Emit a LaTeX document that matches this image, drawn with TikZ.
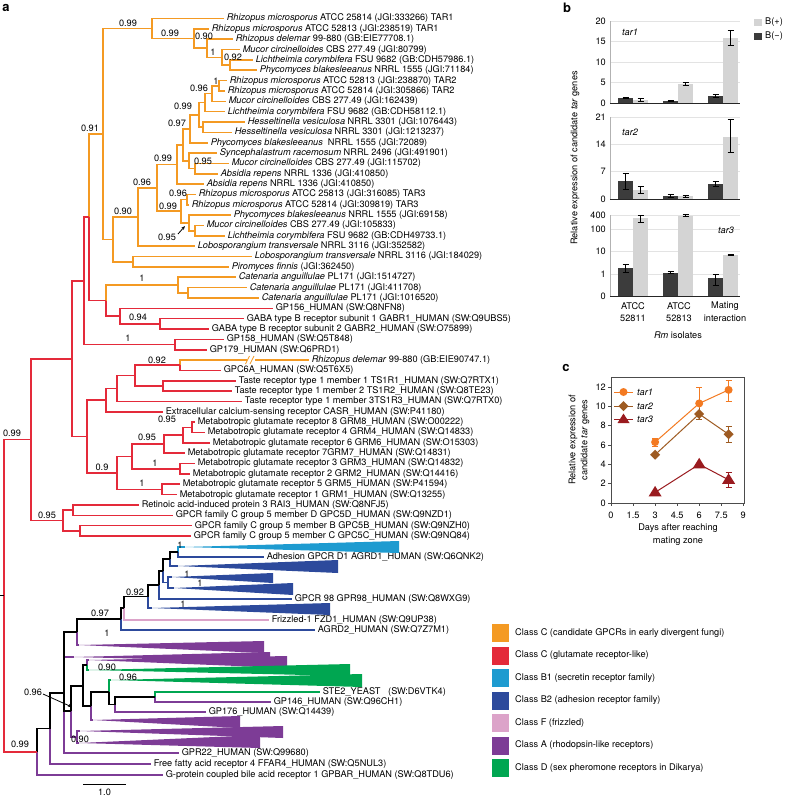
\documentclass[tikz,border=0pt]{standalone}
\usepackage{fontspec}
\setmainfont{TeX Gyre Heros}
\usetikzlibrary{arrows.meta}
\definecolor{cOr}{HTML}{F49A23}
\definecolor{cRd}{HTML}{E42A3A}
\definecolor{cLb}{HTML}{1E9BD0}
\definecolor{cDb}{HTML}{2D4A9C}
\definecolor{cPk}{HTML}{DCA3C9}
\definecolor{cPu}{HTML}{7D3C96}
\definecolor{cGn}{HTML}{00A651}
\definecolor{cBarD}{HTML}{3C3C3C}
\definecolor{cBarL}{HTML}{D4D4D4}
\definecolor{cT1}{HTML}{F37A22}
\definecolor{cT2}{HTML}{9E5B22}
\definecolor{cT3}{HTML}{9A1B1F}
\newcommand\lbl{\fontsize{9.2}{10}\selectfont}
\newcommand\tb[3]{\draw[#1] (#2) |- (#3);}
\newcommand\mkleaf[4]{\coordinate (#1) at (#2,#3); \node[lf] (#1t) at (#1) {#4};}
\newcommand\ebar[3]{\draw[line width=0.7pt] (#1,#2) -- (#1,#3) ({#1-3},#2) -- ({#1+3},#2) ({#1-3},#3) -- ({#1+3},#3);}
\newcommand\bbar[4]{\fill[#1] (#2,#3) rectangle ({#2+15},#4);}
\begin{document}
\begin{tikzpicture}[x=1pt,y=-1pt,
  lf/.style={anchor=west,inner sep=0pt,font=\lbl,xshift=2.6pt},
  bs/.style={inner sep=0pt,font=\lbl},
  ob/.style={draw=cOr,line width=1.6pt},
  rb/.style={draw=cRd,line width=1.6pt},
  kb/.style={draw=black,line width=1.8pt},
  lbb/.style={draw=cLb,line width=1.3pt},
  dbb/.style={draw=cDb,line width=1.3pt},
  pkb/.style={draw=cPk,line width=1.3pt},
  pub/.style={draw=cPu,line width=1.3pt},
  gnb/.style={draw=cGn,line width=1.3pt},
  tk/.style={font=\lbl,inner sep=0pt},
  pl/.style={font=\bfseries\fontsize{13}{13}\selectfont,inner sep=0pt},
  arr/.style={-{Stealth[length=4pt,width=3.2pt]},line width=0.8pt},
]
\useasboundingbox (0,0) rectangle (788,796);
\fill[white] (0,0) rectangle (788,796);

% ---------- panel labels
\node[pl] (la) at (6,8) {a};
\node[pl] (lb) at (567,8) {b};
\node[pl] (lc) at (566,368) {c};

% ---------- internal nodes (orange / red)
\coordinate (E) at (230,65.08);
\coordinate (D) at (222,57.3);
\coordinate (C) at (207,48.25);
\coordinate (B) at (194,38.55);
\coordinate (A) at (152,28.5);
\coordinate (T2) at (219,85.8);
\coordinate (N96a) at (212,93.55);
\coordinate (Nlich) at (205,102.6);
\coordinate (Nh) at (203,127.2);
\coordinate (N99a) at (199,114.9);
\coordinate (N97) at (190,128.8);
\coordinate (N95) at (195,168.6);
\coordinate (Nsync) at (189,160.8);
\coordinate (Nx) at (183,144.8);
\coordinate (N99b) at (177,164.45);
\coordinate (N96c) at (187,199.6);
\coordinate (Nlm) at (195,230.7);
\coordinate (Nph) at (189,222.9);
\coordinate (N99c) at (181,211.25);
\coordinate (N96b) at (157,187.85);
\coordinate (N138) at (138,217.0);
\coordinate (Nlp) at (133,261.7);
\coordinate (N90) at (113,239.35);
\coordinate (O91) at (103,133.9);
\coordinate (Ncat2) at (188,292.8);
\coordinate (Ncat) at (178,285.0);
\coordinate (Ngaba) at (160,323.8);
\coordinate (T) at (120,316.05);
\coordinate (S) at (106,300.5);
\coordinate (P) at (89,217.2);
\coordinate (Ngp158) at (175,344.5);
\coordinate (Q) at (84,280.9);
\coordinate (Ngpc6) at (180,365.2);
\coordinate (Nts12) at (163,385.9);
\coordinate (Nts) at (135,375.6);
\coordinate (N117t) at (117,388.5);
\coordinate (N106) at (106,400.2);
\coordinate (N84) at (192,427.3);
\coordinate (N183) at (183,435.1);
\coordinate (N164) at (164,444.2);
\coordinate (N32) at (180,468.7);
\coordinate (N132) at (132,456.45);
\coordinate (N51) at (162,489.4);
\coordinate (N117g) at (117,472.9);
\coordinate (G) at (87,436.55);
\coordinate (N2) at (72,358.7);
\coordinate (Nr) at (73,510.1);
\coordinate (Nc) at (80,530.8);
\coordinate (Ng5) at (63,520.45);
\coordinate (N1) at (31,439.6);
\coordinate (R) at (4,595.6);
\coordinate (R0) at (0,595.6);

% ---------- leaves
\mkleaf{r0}{224}{18.5}{\textit{Rhizopus microsporus} ATCC 25814 (JGI:333266) TAR1}
\mkleaf{r1}{209}{28.85}{\textit{Rhizopus microsporus} ATCC 52813 (JGI:238519) TAR1}
\mkleaf{r2}{233}{39.2}{\textit{Rhizopus delemar} 99-880 (GB:EIE77708.1)}
\mkleaf{r3}{240}{49.55}{\textit{Mucor circinelloides} CBS 277.49 (JGI:80799)}
\mkleaf{r4}{253}{59.9}{\textit{Lichtheimia corymbifera} FSU 9682 (GB:CDH57986.1)}
\mkleaf{r5}{257}{70.25}{\textit{Phycomyces blakesleeanus} NRRL 1555 (JGI:71184)}
\mkleaf{r6}{227}{80.6}{\textit{Rhizopus microsporus} ATCC 52813 (JGI:238870) TAR2}
\mkleaf{r7}{225}{90.95}{\textit{Rhizopus microsporus} ATCC 52814 (JGI:305866) TAR2}
\mkleaf{r8}{226}{101.3}{\textit{Mucor circinelloides} CBS 277.49 (JGI:162439)}
\mkleaf{r9}{225}{111.65}{\textit{Lichtheimia corymbifera} FSU 9682 (GB:CDH58112.1)}
\mkleaf{r10}{245}{122}{\textit{Hesseltinella vesiculosa} NRRL 3301 (JGI:1076443)}
\mkleaf{r11}{232}{132.35}{\textit{Hesseltinella vesiculosa} NRRL 3301 (JGI:1213237)}
\mkleaf{r12}{208}{142.7}{\textit{Phycomyces blakesleeanus}\ \ NRRL 1555 (JGI:72089)}
\mkleaf{r13}{217}{153.05}{\textit{Syncephalastrum racemosum} NRRL 2496 (JGI:491901)}
\mkleaf{r14}{229}{163.4}{\textit{Mucor circinelloides} CBS 277.49 (JGI:115702)}
\mkleaf{r15}{218}{173.75}{\textit{Absidia repens} NRRL 1336 (JGI:410850)}
\mkleaf{r16}{204}{184.1}{\textit{Absidia repens} NRRL 1336 (JGI:410850)}
\mkleaf{r17}{196}{194.45}{\textit{Rhizopus microsporus} ATCC 25813 (JGI:316085) TAR3}
\mkleaf{r18}{189}{204.8}{\textit{Rhizopus microsporus} ATCC 52814 (JGI:309819) TAR3}
\mkleaf{r19}{231}{215.15}{\textit{Phycomyces blakesleeanus} NRRL 1555 (JGI:69158)}
\mkleaf{r20}{204}{225.5}{\textit{Mucor circinelloides} CBS 277.49 (JGI:105833)}
\mkleaf{r21}{225}{235.85}{\textit{Lichtheimia corymbifera} FSU 9682 (GB:CDH49733.1)}
\mkleaf{r22}{195}{246.2}{\textit{Lobosporangium transversale} NRRL 3116 (JGI:352582)}
\mkleaf{r23}{252}{256.55}{\textit{Lobosporangium transversale} NRRL 3116 (JGI:184029)}
\mkleaf{r24}{229}{266.9}{\textit{Piromyces finnis} (JGI:362450)}
\mkleaf{r25}{236}{277.25}{\textit{Catenaria anguillulae} PL171 (JGI:1514727)}
\mkleaf{r26}{247}{287.6}{\textit{Catenaria anguillulae} PL171 (JGI:411708)}
\mkleaf{r27}{259}{297.95}{\textit{Catenaria anguillulae} PL171 (JGI:1016520)}
\mkleaf{r28}{273}{308.3}{GP156\_HUMAN (SW:Q8NFN8)}
\mkleaf{r29}{244}{318.65}{GABA type B receptor subunit 1 GABR1\_HUMAN (SW:Q9UBS5)}
\mkleaf{r30}{209}{329}{GABA type B receptor subunit 2 GABR2\_HUMAN (SW:O75899)}
\mkleaf{r31}{224}{339.35}{GP158\_HUMAN (SW:Q5T848)}
\mkleaf{r32}{207}{349.7}{GP179\_HUMAN (SW:Q6PRD1)}
\mkleaf{r33}{309}{360.05}{\textit{Rhizopus delemar} 99-880 (GB:EIE90747.1)}
\mkleaf{r34}{221}{370.4}{GPC6A\_HUMAN (SW:Q5T6X5)}
\mkleaf{r35}{236}{380.75}{Taste receptor type 1 member 1 TS1R1\_HUMAN (SW:Q7RTX1)}
\mkleaf{r36}{232}{391.1}{Taste receptor type 1 member 2 TS1R2\_HUMAN (SW:Q8TE23)}
\mkleaf{r37}{242}{401.45}{Taste receptor type 1 member 3TS1R3\_HUMAN (SW:Q7RTX0)}
\mkleaf{r38}{163}{411.8}{Extracellular calcium-sensing receptor CASR\_HUMAN (SW:P41180)}
\mkleaf{r39}{195}{422.15}{Metabotropic glutamate receptor 8 GRM8\_HUMAN (SW:O00222)}
\mkleaf{r40}{205}{432.5}{Metabotropic glutamate receptor 4 GRM4\_HUMAN (SW:Q14833)}
\mkleaf{r41}{210}{442.85}{Metabotropic glutamate receptor 6 GRM6\_HUMAN (SW:O15303)}
\mkleaf{r42}{185}{453.2}{Metabotropic glutamate receptor 7GRM7\_HUMAN (SW:Q14831)}
\mkleaf{r43}{195}{463.55}{Metabotropic glutamate receptor 3 GRM3\_HUMAN (SW:Q14832)}
\mkleaf{r44}{190}{473.9}{Metabotropic glutamate receptor 2 GRM2\_HUMAN (SW:Q14416)}
\mkleaf{r45}{180}{484.25}{Metabotropic glutamate receptor 5 GRM5\_HUMAN (SW:P41594)}
\mkleaf{r46}{177}{494.6}{Metabotropic glutamate receptor 1 GRM1\_HUMAN (SW:Q13255)}
\mkleaf{r47}{139}{504.95}{Retinoic acid-induced protein 3 RAI3\_HUMAN (SW:Q8NFJ5)}
\mkleaf{r48}{173}{515.3}{GPCR family C group 5 member D GPC5D\_HUMAN (SW:Q9NZD1)}
\mkleaf{r49}{192}{525.65}{GPCR family C group 5 member B GPC5B\_HUMAN (SW:Q9NZH0)}
\mkleaf{r50}{191}{536}{GPCR family C group 5 member C GPC5C\_HUMAN (SW:Q9NQ84)}

% ---------- orange branches
\tb{ob}{A}{r0}\tb{ob}{A}{B}\tb{ob}{B}{r1}\tb{ob}{B}{C}\tb{ob}{C}{r2}\tb{ob}{C}{D}
\tb{ob}{D}{r3}\tb{ob}{D}{E}\tb{ob}{E}{r4}\tb{ob}{E}{r5}
\tb{ob}{T2}{r6}\tb{ob}{T2}{r7}\tb{ob}{N96a}{T2}\tb{ob}{N96a}{r8}\tb{ob}{Nlich}{N96a}\tb{ob}{Nlich}{r9}
\tb{ob}{Nh}{r10}\tb{ob}{Nh}{r11}\tb{ob}{N99a}{Nlich}\tb{ob}{N99a}{Nh}\tb{ob}{N97}{N99a}\tb{ob}{N97}{r12}
\tb{ob}{N95}{r14}\tb{ob}{N95}{r15}\tb{ob}{Nsync}{r13}\tb{ob}{Nsync}{N95}\tb{ob}{Nx}{N97}\tb{ob}{Nx}{Nsync}
\tb{ob}{N99b}{Nx}\tb{ob}{N99b}{r16}
\tb{ob}{N96c}{r17}\tb{ob}{N96c}{r18}\tb{ob}{Nlm}{r20}\tb{ob}{Nlm}{r21}\tb{ob}{Nph}{r19}\tb{ob}{Nph}{Nlm}
\tb{ob}{N99c}{N96c}\tb{ob}{N99c}{Nph}\tb{ob}{N96b}{N99b}\tb{ob}{N96b}{N99c}\tb{ob}{N138}{N96b}\tb{ob}{N138}{r22}
\tb{ob}{Nlp}{r23}\tb{ob}{Nlp}{r24}\tb{ob}{N90}{N138}\tb{ob}{N90}{Nlp}\tb{ob}{O91}{A}\tb{ob}{O91}{N90}
\tb{ob}{P}{O91}
\tb{ob}{Ncat2}{r26}\tb{ob}{Ncat2}{r27}\tb{ob}{Ncat}{r25}\tb{ob}{Ncat}{Ncat2}\tb{ob}{S}{Ncat}
\tb{ob}{Ngpc6}{r33}
% ---------- red branches
\tb{rb}{P}{S}\tb{rb}{Q}{P}\tb{rb}{Q}{Ngp158}\tb{rb}{Ngp158}{r31}\tb{rb}{Ngp158}{r32}
\tb{rb}{S}{T}\tb{rb}{T}{r28}\tb{rb}{T}{Ngaba}\tb{rb}{Ngaba}{r29}\tb{rb}{Ngaba}{r30}
\tb{rb}{N2}{Q}\tb{rb}{N2}{G}
\tb{rb}{Ngpc6}{r34}\tb{rb}{Nts12}{r35}\tb{rb}{Nts12}{r36}\tb{rb}{Nts}{Ngpc6}\tb{rb}{Nts}{Nts12}
\tb{rb}{N117t}{Nts}\tb{rb}{N117t}{r37}\tb{rb}{N106}{N117t}\tb{rb}{N106}{r38}
\tb{rb}{N84}{r39}\tb{rb}{N84}{r40}\tb{rb}{N183}{N84}\tb{rb}{N183}{r41}\tb{rb}{N164}{N183}\tb{rb}{N164}{r42}
\tb{rb}{N32}{r43}\tb{rb}{N32}{r44}\tb{rb}{N132}{N164}\tb{rb}{N132}{N32}\tb{rb}{N51}{r45}\tb{rb}{N51}{r46}
\tb{rb}{N117g}{N132}\tb{rb}{N117g}{N51}\tb{rb}{G}{N106}\tb{rb}{G}{N117g}
\tb{rb}{Nr}{r47}\tb{rb}{Nr}{r48}\tb{rb}{Nc}{r49}\tb{rb}{Nc}{r50}\tb{rb}{Ng5}{Nr}\tb{rb}{Ng5}{Nc}
\tb{rb}{N1}{N2}\tb{rb}{N1}{Ng5}\tb{rb}{R}{N1}
\draw[kb,line width=1.2pt] (R) -- (R0);
% break mark
\fill[white] (246.5,355) rectangle (254.5,365);
\draw[cOr,line width=0.8pt] (245.5,364) -- (249.5,356) (250,364) -- (254,356);

% ---------- bottom internal nodes
\coordinate (K1) at (178,552);
\coordinate (K2) at (170,559);
\coordinate (Nw23) at (168,582.5);
\coordinate (K3) at (163,570.75);
\coordinate (K4) at (159,584.9);
\coordinate (K5) at (148,596.5);
\coordinate (K6a) at (124,608.2);
\coordinate (K6b) at (121,619.1);
\coordinate (K8) at (77,632);
\coordinate (B2) at (64,693);
\coordinate (Ng1) at (87,665);
\coordinate (N155) at (155,697);
\coordinate (N115) at (115,704.5);
\coordinate (N096) at (109,692.25);
\coordinate (Ng2) at (91,706.1);
\coordinate (Mg) at (83,685.6);
\coordinate (Mw) at (77,737);
\coordinate (M) at (71,711.3);
\coordinate (B1) at (50,728.5);
\coordinate (B0) at (37,751.75);
% wedge apices
\coordinate (LB) at (185,547);
\coordinate (W1) at (178,566);
\coordinate (W2) at (172,577);
\coordinate (W3) at (174,588);
\coordinate (W4) at (152,608);
\coordinate (W5) at (79,645);
\coordinate (W6) at (74,657);
\coordinate (W7) at (89,660);
\coordinate (G1) at (89,670);
\coordinate (G2) at (111,680);
\coordinate (W8) at (93,720);
\coordinate (W9) at (80,731);
\coordinate (W10) at (79,743);
% bottom leaves
\mkleaf{AGRD1}{264}{557}{Adhesion GPCR D1 AGRD1\_HUMAN (SW:Q6QNK2)}
\mkleaf{GPR98}{292}{599}{GPCR 98 GPR98\_HUMAN (SW:Q8WXG9)}
\mkleaf{FZD1}{269}{620}{Frizzled-1 FZD1\_HUMAN (SW:Q9UP38)}
\mkleaf{AGRD2}{315}{630}{AGRD2\_HUMAN (SW:Q7Z7M1)}
\mkleaf{STE2}{320}{692}{STE2\_YEAST\ \ \ (SW:D6VTK4)}
\mkleaf{GP146}{271}{702}{GP146\_HUMAN (SW:Q96CH1)}
\mkleaf{GP176}{206}{712}{GP176\_HUMAN (SW:Q14439)}
\mkleaf{GPR22}{179}{753}{GPR22\_HUMAN (SW:Q99680)}
\mkleaf{FFAR4}{151}{764}{Free fatty acid receptor 4 FFAR4\_HUMAN (SW:Q5NUL3)}
\mkleaf{GPBAR}{163}{775}{G-protein coupled bile acid receptor 1 GPBAR\_HUMAN (SW:Q8TDU6)}

% wedges
\fill[cLb] (LB) -- (399,541) -- (399,553) -- cycle;
\fill[cDb] (W1) -- (338,560) -- (338,573) -- cycle;
\fill[cDb] (W2) -- (273,573) -- (273,583) -- cycle;
\fill[cDb] (W3) -- (293,583) -- (293,595) -- cycle;
\fill[cDb] (W4) -- (330,603) -- (330,615) -- cycle;
\fill[cPu] (W5) -- (264,641) -- (264,653) -- cycle;
\fill[cPu] (W6) -- (270,652) -- (270,662) -- cycle;
\fill[cPu] (W7) -- (287,656) -- (287,668) -- cycle;
\fill[cGn] (G1) -- (350,664) -- (350,676) -- cycle;
\fill[cGn] (G2) -- (362,674) -- (362,687) -- cycle;
\fill[cPu] (W8) -- (240,716) -- (240,728) -- cycle;
\fill[cPu] (W9) -- (283,726) -- (283,738) -- cycle;
\fill[cPu] (W10) -- (260,735) -- (260,748) -- cycle;

% coloured bottom branches
\tb{pub}{B0}{GPBAR}\tb{pub}{B1}{FFAR4}\tb{pub}{B2}{GPR22}\tb{pub}{B2}{W6}\tb{pub}{K8}{W5}
\tb{pub}{Ng1}{W7}\tb{pub}{Ng2}{W8}\tb{pub}{M}{Mw}\tb{pub}{Mw}{W9}\tb{pub}{Mw}{W10}
\tb{pub}{N115}{GP176}\tb{pub}{N155}{GP146}
\tb{gnb}{Ng1}{G1}\tb{gnb}{N096}{G2}\tb{gnb}{N155}{STE2}
\tb{dbb}{K1}{AGRD1}\tb{dbb}{K2}{W1}\tb{dbb}{K3}{Nw23}\tb{dbb}{Nw23}{W2}\tb{dbb}{Nw23}{W3}
\tb{dbb}{K4}{GPR98}\tb{dbb}{K5}{W4}\tb{dbb}{K6b}{AGRD2}
\tb{lbb}{K1}{LB}
\tb{pkb}{K6a}{FZD1}
% black backbone
\tb{kb}{B0}{B1}\tb{kb}{B1}{B2}\tb{kb}{B2}{K8}\tb{kb}{K8}{K6b}\tb{kb}{K6b}{K6a}\tb{kb}{K6a}{K5}
\tb{kb}{K5}{K4}\tb{kb}{K4}{K3}\tb{kb}{K3}{K2}\tb{kb}{K2}{K1}\tb{kb}{B2}{M}\tb{kb}{M}{Mg}
\tb{kb}{Mg}{Ng1}\tb{kb}{Mg}{Ng2}\tb{kb}{Ng2}{N096}\tb{kb}{N096}{N115}\tb{kb}{N115}{N155}
\tb{rb}{R}{B0}

% ---------- support values
\node[bs] (s1) at (128,23) {0.99};
\node[bs] (s2) at (170,33) {0.99};
\node[bs] (s3) at (204,36) {0.90};
\node[bs] (s4) at (213,52) {1};
\node[bs] (s5) at (233,57) {0.92};
\node[bs] (s6) at (216,81) {1};
\node[bs] (s7) at (199,88) {0.96};
\node[bs] (s8) at (183,106) {0.99};
\node[bs] (s9) at (177,123) {0.97};
\node[bs] (s10) at (90,128) {0.91};
\node[bs] (s11) at (163,158) {0.99};
\node[bs] (s12) at (203,161) {0.95};
\node[bs] (s13) at (142,182) {0.96};
\node[bs] (s14) at (178,193) {0.96};
\node[bs] (s15) at (168,206) {0.99};
\node[bs] (s16) at (123,211) {0.90};
\node[bs] (s17) at (167,237) {0.95};
\node[bs] (s18) at (142,278) {1};
\node[bs] (s19) at (138,317) {0.94};
\node[bs] (s20) at (128,338) {1};
\node[bs] (s21) at (157,360) {0.92};
\node[bs] (s22) at (167,419) {0.95};
\node[bs] (s23) at (147,437) {0.95};
\node[bs] (s24) at (155,463) {1};
\node[bs] (s25) at (102,467) {0.9};
\node[bs] (s26) at (142,483) {1};
\node[bs] (s27) at (47,515) {0.95};
\node[bs] (s28) at (12,433) {0.99};
\node[bs] (s29) at (20,744) {0.99};
\node[bs] (s30) at (180,545) {1};
\node[bs] (s31) at (187,574) {1};
\node[bs] (s32) at (200,583) {1};
\node[bs] (s33) at (183,604) {1};
\node[bs] (s34) at (135,592) {0.92};
\node[bs] (s35) at (100,613) {0.97};
\node[bs] (s36) at (107,633) {1};
\node[bs] (s37) at (107,667) {0.90};
\node[bs] (s38) at (128,677) {0.96};
\node[bs] (s39) at (33,692) {0.96};
\node[bs] (s40) at (80,739) {0.90};
\coordinate (a17s) at (178,234); \coordinate (a17e) at (185,226);
\draw[arr] (a17s) -- (a17e);
\coordinate (a39s) at (43,694); \coordinate (a39e) at (72,707);
\draw[arr] (a39s) -- (a39e);

% scale bar
\coordinate (sb1) at (83,784); \coordinate (sb2) at (126,784);
\draw[line width=1pt] (sb1) -- (sb2);
\node[bs] (sbt) at (104.5,792) {1.0};

% ---------- legend
\foreach \i/\cc/\tt in {0/cOr/{Class C (candidate GPCRs in early divergent fungi)},
  1/cRd/{Class C (glutamate receptor-like)},
  2/cLb/{Class B1 (secretin receptor family)},
  3/cDb/{Class B2 (adhesion receptor family)},
  4/cPk/{Class F (frizzled)},
  5/cPu/{Class A (rhodopsin-like receptors)},
  6/cGn/{Class D (sex pheromone receptors in Dikarya)}}{
  \fill[\cc] (492,{624+22.5*\i}) rectangle (509,{642+22.5*\i});
  \node[anchor=west,tk] (leg\i) at (515,{633+22.5*\i}) {\tt};
}

% ---------- panel b
\foreach \yy in {82.5,62,41.5,21,171.7,144.3,117,274,251,229,215}
  \draw[gray!22,line width=0.6pt] (610,\yy) -- (740,\yy);
\draw[gray!60,line width=0.6pt] (610,21) -- (610,103) (610,117) -- (610,199) (610,215) -- (610,296);
\foreach \v/\yy in {20/21,15/41.5,10/62,5/82.5,0/103,21/117,14/144.3,7/171.7,0/199,400/215,100/229,10/251,1/274,0/296}
  \node[anchor=east,tk] at (606,\yy) {\v};
% tar1
\bbar{cBarD}{618}{97.7}{103}\bbar{cBarD}{663}{101}{103}\bbar{cBarD}{708}{95.6}{103}
\bbar{cBarL}{633}{99.7}{103}\bbar{cBarL}{678}{84.1}{103}\bbar{cBarL}{723}{37.8}{103}
\ebar{625.5}{98.1}{97.3}\ebar{640.5}{101.4}{98.5}\ebar{670.5}{101.4}{100.6}
\ebar{685.5}{85.4}{82.7}\ebar{715.5}{96.9}{94.4}\ebar{730.5}{45.6}{30.0}
% tar2
\bbar{cBarD}{618}{181}{199}\bbar{cBarD}{663}{196.3}{199}\bbar{cBarD}{708}{183.8}{199}
\bbar{cBarL}{633}{190}{199}\bbar{cBarL}{678}{196.3}{199}\bbar{cBarL}{723}{136.5}{199}
\ebar{625.5}{188.9}{173.2}\ebar{640.5}{193.1}{186.5}\ebar{670.5}{197.8}{194.7}
\ebar{685.5}{197.4}{195.1}\ebar{715.5}{186.1}{181}\ebar{730.5}{152.1}{119}
% tar3
\bbar{cBarD}{618}{268}{296}\bbar{cBarD}{663}{272.5}{296}\bbar{cBarD}{708}{278}{296}
\bbar{cBarL}{633}{218}{296}\bbar{cBarL}{678}{215.5}{296}\bbar{cBarL}{723}{255}{296}
\ebar{625.5}{272}{264}\ebar{640.5}{222}{215}\ebar{670.5}{273.5}{271.5}
\ebar{685.5}{216.5}{214.5}\ebar{715.5}{285}{274}\ebar{730.5}{255.5}{254.5}
\draw[gray!30!black,line width=0.9pt] (610,103) -- (740,103) (610,199) -- (740,199) (610,296) -- (740,296);
\node[anchor=west,tk] (bt1) at (622,32) {\textit{tar1}};
\node[anchor=west,tk] (bt2) at (622,132) {\textit{tar2}};
\node[anchor=west,tk] (bt3) at (718,230) {\textit{tar3}};
\fill[cBarL] (754,19) rectangle (762,26);
\node[anchor=west,tk] (bl1) at (765,22.5) {B(+)};
\fill[cBarD] (754,33) rectangle (762,40);
\node[anchor=west,tk] (bl2) at (765,36.5) {B(−)};
\node[tk] (bx1) at (633,306) {ATCC};
\node[tk] (bx2) at (633,318) {52811};
\node[tk] (bx3) at (679,306) {ATCC};
\node[tk] (bx4) at (679,318) {52813};
\node[tk] (bx5) at (725,306) {Mating};
\node[tk] (bx6) at (725,318) {interaction};
\node[tk] (bx7) at (678,335) {\textit{Rm} isolates};
\node[tk,rotate=90] (by) at (575,158) {Relative expression of candidate \textit{tar} genes};

% ---------- panel c
\draw[gray!60!black,line width=0.8pt] (611,377) rectangle (744,503);
\foreach \v in {0,2,...,12}{
  \draw[gray!60!black,line width=0.6pt] (611,{503-9.67*\v}) -- (608,{503-9.67*\v});
  \node[anchor=east,tk] at (606,{503-9.67*\v}) {\v};
}
\foreach \v in {0,1.5,3,4.5,6,7.5,9}{
  \draw[gray!60!black,line width=0.6pt] ({611+14.7*\v},503) -- ({611+14.7*\v},506);
  \node[tk] at ({611+14.7*\v},515) {\v};
}
\node[tk] (cx1) at (678,528) {Days after reaching};
\node[tk] (cx2) at (678,541) {mating zone};
\node[tk,rotate=90] (cy1) at (573,440) {Relative expression of};
\node[tk,rotate=90] (cy2) at (585,440) {candidate \textit{tar} genes};
% error bars
\begin{scope}[line width=0.7pt]
\draw[cT1] (655.1,446) -- (655.1,438.2) (652,446) -- (658,446) (652,438.2) -- (658,438.2);
\draw[cT1] (699.2,408.2) -- (699.2,387) (696,387) -- (702,387);
\draw[cT1] (728.6,401.5) -- (728.6,380.2) (725.5,401.5) -- (731.5,401.5) (725.5,380.2) -- (731.5,380.2);
\draw[cT2] (699.2,419.8) -- (699.2,408.2) (696,419.8) -- (702,419.8);
\draw[cT2] (728.6,442.1) -- (728.6,426.6) (725.5,442.1) -- (731.5,442.1) (725.5,426.6) -- (731.5,426.6);
\draw[cT3] (728.6,487.5) -- (728.6,472) (725.5,487.5) -- (731.5,487.5) (725.5,472) -- (731.5,472);
\end{scope}
\coordinate (p11) at (655.1,442.1); \coordinate (p12) at (699.2,403.4); \coordinate (p13) at (728.6,389.9);
\coordinate (p21) at (655.1,454.7); \coordinate (p22) at (699.2,414.0); \coordinate (p23) at (728.6,434.3);
\coordinate (p31) at (655.1,492.4); \coordinate (p32) at (699.2,464.3); \coordinate (p33) at (728.6,479.8);
\draw[cT1,line width=1pt] (p11) -- (p12) -- (p13);
\draw[cT2,line width=1pt] (p21) -- (p22) -- (p23);
\draw[cT3,line width=1pt] (p31) -- (p32) -- (p33);
\foreach \p in {p11,p12,p13} \fill[cT1] (\p) circle (4);
\foreach \p in {p21,p22,p23} \fill[cT2] (\p) ++(0,-5) -- ++(5,5) -- ++(-5,5) -- ++(-5,-5) -- cycle;
\foreach \p in {p31,p32,p33} \fill[cT3] (\p) ++(0,-6.5) -- ++(6.5,10.5) -- ++(-13,0) -- cycle;
% legend c
\coordinate (cl1) at (623.5,392); \coordinate (cl2) at (623.5,406); \coordinate (cl3) at (623.5,419.5);
\draw[cT1,line width=1pt] (614,392) -- (633,392);
\draw[cT2,line width=1pt] (614,406) -- (633,406);
\draw[cT3,line width=1pt] (614,419.5) -- (633,419.5);
\fill[cT1] (cl1) circle (4);
\fill[cT2] (cl2) ++(0,-5) -- ++(5,5) -- ++(-5,5) -- ++(-5,-5) -- cycle;
\fill[cT3] (cl3) ++(0,-6) -- ++(6,9.5) -- ++(-12,0) -- cycle;
\node[anchor=west,tk] (ct1) at (637,392) {\textit{tar1}};
\node[anchor=west,tk] (ct2) at (637,406) {\textit{tar2}};
\node[anchor=west,tk] (ct3) at (637,419.5) {\textit{tar3}};
\end{tikzpicture}
\end{document}
